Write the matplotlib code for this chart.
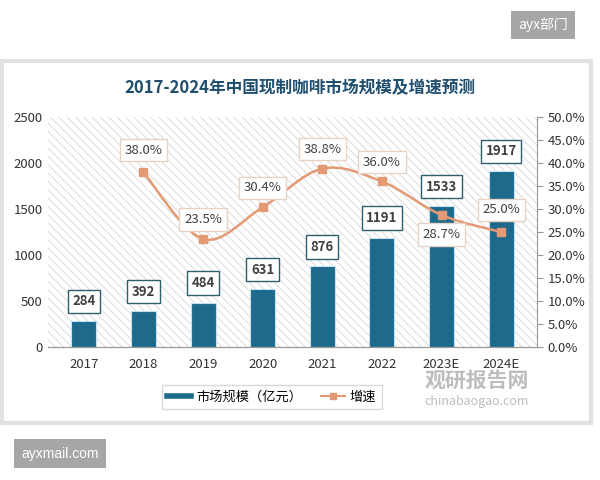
import matplotlib.pyplot as plt
from matplotlib.patches import Rectangle, PathPatch
from matplotlib.path import Path
import numpy as np

plt.rcParams['font.family'] = ['Noto Sans CJK SC', 'DejaVu Sans']
plt.rcParams['hatch.linewidth'] = 0.6

# data
years = ['2017', '2018', '2019', '2020', '2021', '2022', '2023E', '2024E']
market = [284, 392, 484, 631, 876, 1191, 1533, 1917]
growth = [None, 38.0, 23.5, 30.4, 38.8, 36.0, 28.7, 25.0]

bar_color = '#1d6a8c'
line_color = '#e39a74'

fig = plt.figure(figsize=(6, 4.8), dpi=100)

# card background
fig.patches.append(Rectangle((0.003, 0.118), 0.982, 0.755, transform=fig.transFigure,
                             facecolor='white', edgecolor='#e2e2e2', lw=3, zorder=-5))

ax = fig.add_axes([0.08, 0.277, 0.815, 0.479])
ax2 = ax.twinx()

x = np.arange(len(years))
ax.set_xlim(-0.6, len(years) - 0.4)
ax.set_ylim(0, 2500)
ax2.set_ylim(0, 50)

# hatched background
ax.add_patch(Rectangle((0, 0), 1, 1, transform=ax.transAxes, facecolor='white',
                       edgecolor='#d6d6d6', hatch='\\\\\\\\', lw=0, zorder=0))

ax.bar(x, market, width=0.42, color=bar_color, edgecolor='#bfe3f0', lw=0.8, zorder=2)
for xi, v in zip(x, market):
    ax.annotate(str(v), (xi, v), xytext=(0, 14), textcoords='offset points',
                ha='center', va='center', fontsize=9.5, fontweight='semibold', color='#404040',
                bbox=dict(boxstyle='square,pad=0.35', fc='white', ec='#2e5d6e', lw=1),
                zorder=5)

# smoothed growth line (bezier through points)
gx = [xi for xi, g in zip(x, growth) if g is not None]
gy = [g for g in growth if g is not None]
pts = np.column_stack([gx, gy]).astype(float)
verts = [pts[0]]
codes = [Path.MOVETO]
n = len(pts)
for i in range(n - 1):
    p0 = pts[i - 1] if i > 0 else pts[i]
    p1, p2 = pts[i], pts[i + 1]
    p3 = pts[i + 2] if i + 2 < n else pts[i + 1]
    c1 = p1 + (p2 - p0) / 6.0
    c2 = p2 - (p3 - p1) / 6.0
    verts += [c1, c2, p2]
    codes += [Path.CURVE4] * 3
ax2.add_patch(PathPatch(Path(verts, codes), fc='none', ec=line_color, lw=1.8, zorder=3))
ax2.plot(gx, gy, ls='none', marker='s', ms=6, color=line_color, zorder=4)

offsets = [16, 14, 14, 14, 14, -14, 16]
for xi, g, off in zip(gx, gy, offsets):
    ax2.annotate(f'{g:.1f}%', (xi, g), xytext=(0, off), textcoords='offset points',
                 ha='center', va='center', fontsize=9.5, color='#404040',
                 bbox=dict(boxstyle='square,pad=0.35', fc='white', ec='#e8d2c4', lw=1),
                 zorder=6)

ax2.set_zorder(ax.get_zorder() + 1)
ax2.patch.set_visible(False)

ax.set_xticks(x)
ax.set_xticklabels(years, fontsize=9.5, color='#333333')
ax.set_yticks(range(0, 2501, 500))
ax.tick_params(axis='y', length=0, labelsize=9.5, labelcolor='#333333', pad=4)
ax.tick_params(axis='x', length=0, pad=8)
ax2.set_yticks(range(0, 51, 5))
ax2.set_yticklabels([f'{v:.1f}%' for v in range(0, 51, 5)])
ax2.tick_params(axis='y', length=4, color='#999999', labelsize=9.5, labelcolor='#333333')

for a in (ax, ax2):
    for s in ['top', 'left']:
        a.spines[s].set_visible(False)
ax.spines['right'].set_visible(False)
ax2.spines['right'].set_color('#999999')
ax2.spines['bottom'].set_color('#999999')
ax.spines['bottom'].set_color('#999999')

fig.text(0.5, 0.817, '2017-2024年中国现制咖啡市场规模及增速预测', ha='center', va='center',
         fontsize=12, fontweight='bold', color='#1f4e6e')

# legend
leg = ax2.legend(handles=[
    plt.Line2D([], [], color=bar_color, lw=4),
    plt.Line2D([], [], color=line_color, lw=1.5, marker='s', ms=5)],
    labels=['市场规模（亿元）', '增速'], loc='center', bbox_to_anchor=(0.453, 0.173),
    bbox_transform=fig.transFigure, ncol=2, frameon=True, fancybox=False,
    edgecolor='#d0d0d0', fontsize=9.5, handlelength=1.8, handletextpad=0.4,
    columnspacing=1.4)

# watermark
fig.text(0.795, 0.207, '观研报告网', ha='center', va='center', fontsize=15,
         fontweight='bold', color='#bdbdbd')
fig.text(0.795, 0.163, 'chinabaogao.com', ha='center', va='center', fontsize=9,
         color='#bdbdbd')

# gray tags
fig.text(0.905, 0.948, 'ayx部门', ha='center', va='center', fontsize=10, color='white',
         bbox=dict(boxstyle='square,pad=0.5', fc='#a6a6a6', ec='none'))
fig.text(0.1, 0.055, 'ayxmail.com', ha='center', va='center', fontsize=10, color='white',
         family=['Liberation Sans', 'DejaVu Sans'],
         bbox=dict(boxstyle='square,pad=0.55', fc='#a6a6a6', ec='none'))

fig.savefig('out.png', dpi=100)
